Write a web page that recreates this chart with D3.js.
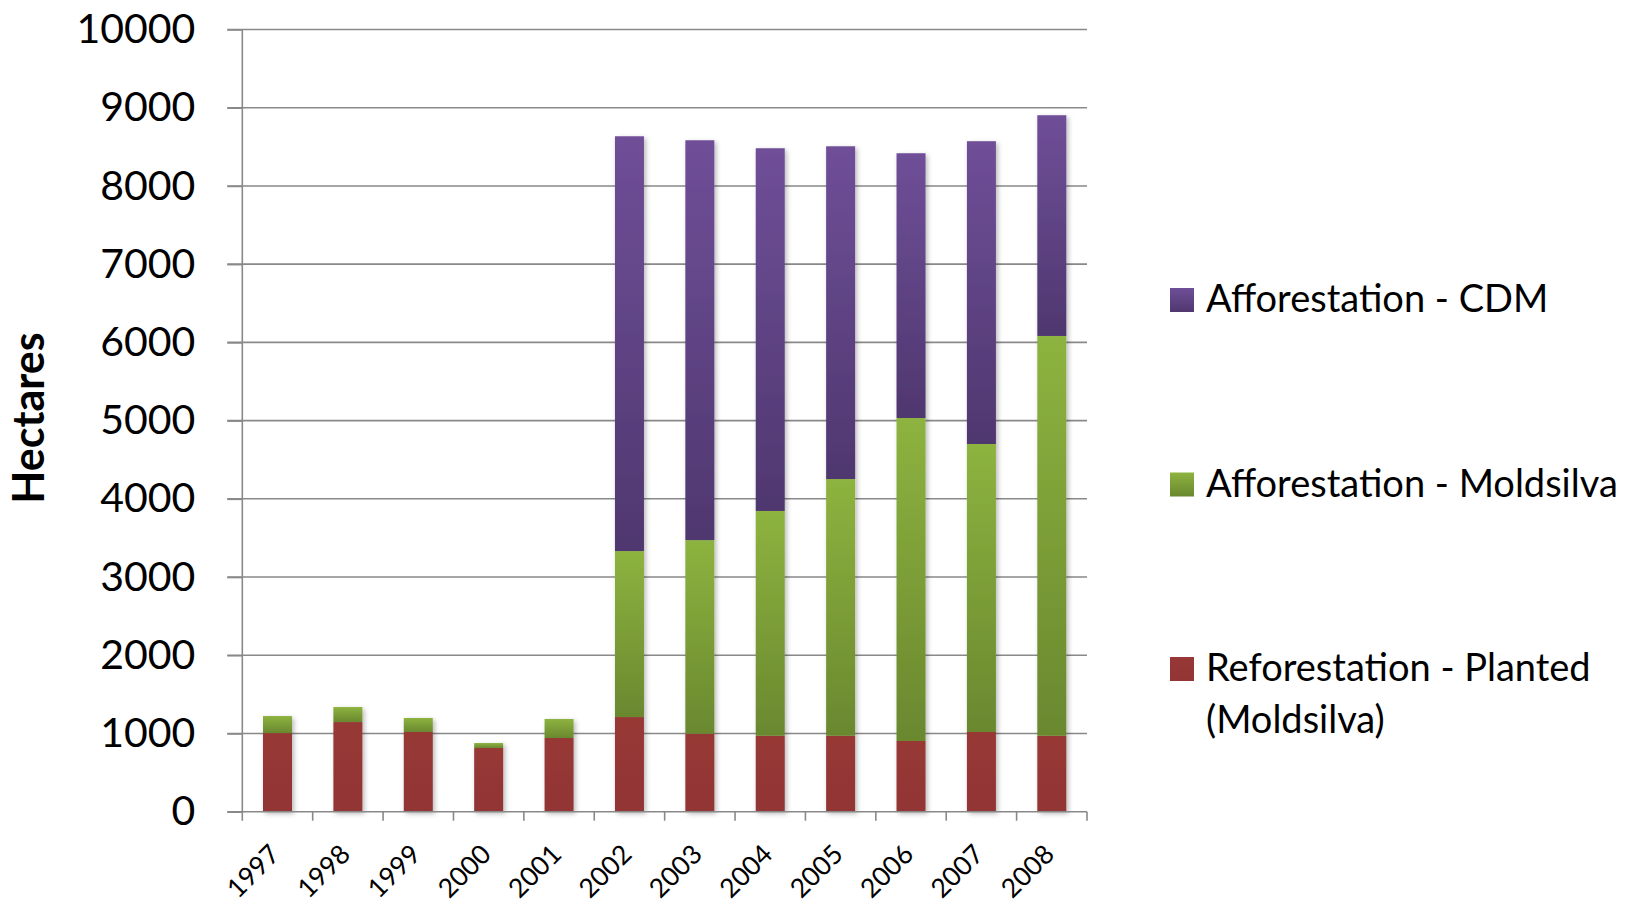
<!DOCTYPE html>
<html>
<head>
<meta charset="utf-8">
<script src="https://cdn.jsdelivr.net/npm/d3@7"></script>
<style>
  html, body { margin: 0; padding: 0; background: #ffffff; }
  svg { display: block; }
  text { font-family: Lato, "Open Sans", sans-serif; fill: #000; }
</style>
</head>
<body>
<svg id="chart" width="1632" height="905"></svg>
<script>
// ---- data ----
const years = ["1997","1998","1999","2000","2001","2002","2003","2004","2005","2006","2007","2008"];
const reforestationPlanted = [1005, 1146, 1019, 814, 942, 1210, 997, 971, 971, 904, 1019, 971];
const afforestationMoldsilva = [218, 192, 179, 64, 243, 2122, 2475, 2874, 3282, 4129, 3682, 5111];
const afforestationCDM = [0, 0, 0, 0, 0, 5303, 5112, 4637, 4254, 3385, 3871, 2822];
const yTicks = [0, 1000, 2000, 3000, 4000, 5000, 6000, 7000, 8000, 9000, 10000];
const seriesKeys = ["ref", "aff", "cdm"];

(function () {
// ---- build table ----
const table = years.map((yr, i) => ({
  year: yr,
  ref: reforestationPlanted[i],
  aff: afforestationMoldsilva[i],
  cdm: afforestationCDM[i]
}));

const svg = d3.select("#chart");
const pLeft = 242.3, pRight = 1087, pTop = 29.5, pBottom = 811.7;

const x = d3.scaleBand().domain(years).range([pLeft, pRight]).paddingInner(0.588).paddingOuter(0.294);
const y = d3.scaleLinear().domain([0, 10000]).range([pBottom, pTop]);

// ---- defs: gradients + shadow ----
const defs = svg.append("defs");
function grad(id, c1, c2) {
  const g = defs.append("linearGradient").attr("id", id).attr("x1", 0).attr("y1", 0).attr("x2", 0).attr("y2", 1);
  g.append("stop").attr("offset", "0%").attr("stop-color", c1);
  g.append("stop").attr("offset", "100%").attr("stop-color", c2);
}
grad("gCDM", "#6f4f98", "#4f376f");
grad("gAFF", "#8db33f", "#6a882f");
grad("gREF", "#973836", "#923534");
const f = defs.append("filter").attr("id", "shadow").attr("x", "-30%").attr("y", "-10%").attr("width", "160%").attr("height", "120%");
f.append("feDropShadow").attr("dx", 2).attr("dy", 2).attr("stdDeviation", 2.5)
  .attr("flood-color", "#000").attr("flood-opacity", 0.28);

const fills = { ref: "url(#gREF)", aff: "url(#gAFF)", cdm: "url(#gCDM)" };

// ---- gridlines ----
svg.append("g").selectAll("line").data(yTicks.filter(d => d > 0)).join("line")
  .attr("x1", pLeft - 15).attr("x2", pRight)
  .attr("y1", d => y(d)).attr("y2", d => y(d))
  .attr("stroke", "#898989").attr("stroke-width", 1.6);

// ---- bars ----
const stack = d3.stack().keys(seriesKeys)(table);
const barsG = svg.append("g").attr("filter", "url(#shadow)");
stack.forEach(layer => {
  barsG.append("g").selectAll("rect").data(layer.filter(d => d[1] - d[0] > 0)).join("rect")
    .attr("x", d => x(d.data.year))
    .attr("width", x.bandwidth())
    .attr("y", d => y(d[1]))
    .attr("height", d => y(d[0]) - y(d[1]))
    .attr("fill", fills[layer.key]);
});

// ---- y axis ----
const yAxis = d3.axisLeft(y).tickValues(yTicks).tickSize(15).tickPadding(32).tickFormat(d3.format("d"));
const yg = svg.append("g").attr("transform", `translate(${pLeft},0)`).call(yAxis);
yg.select(".domain").remove();
yg.selectAll(".tick line").attr("stroke", "#898989").attr("stroke-width", 1.6);
yg.selectAll(".tick text").attr("font-size", 41).attr("font-family", "Lato, sans-serif").attr("fill", "#000");
svg.append("line").attr("x1", pLeft).attr("x2", pLeft).attr("y1", pTop).attr("y2", pBottom + 9)
  .attr("stroke", "#898989").attr("stroke-width", 1.6);

// ---- x axis ----
svg.append("line").attr("x1", pLeft - 15).attr("x2", pRight).attr("y1", pBottom).attr("y2", pBottom)
  .attr("stroke", "#898989").attr("stroke-width", 1.6);
const boundaries = d3.range(years.length + 1).map(i => pLeft + i * x.step());
svg.append("g").selectAll("line").data(boundaries.slice(1)).join("line")
  .attr("x1", d => d).attr("x2", d => d).attr("y1", pBottom).attr("y2", pBottom + 9)
  .attr("stroke", "#898989").attr("stroke-width", 1.6);
svg.append("g").selectAll("text").data(years).join("text")
  .attr("transform", d => `translate(${x(d) + x.bandwidth() / 2 + 4},856) rotate(-45)`)
  .attr("text-anchor", "end")
  .attr("font-size", 26.5)
  .text(d => d);

// ---- y title ----
svg.append("text")
  .attr("transform", "translate(44,418) rotate(-90)")
  .attr("text-anchor", "middle")
  .attr("font-size", 43)
  .attr("font-weight", "bold")
  .text("Hectares");

// ---- legend ----
const legendItems = [
  { key: "cdm", lines: ["Afforestation - CDM"], sqY: 288, base: 311.7 },
  { key: "aff", lines: ["Afforestation - Moldsilva"], sqY: 472.5, base: 496.7 },
  { key: "ref", lines: ["Reforestation - Planted", "(Moldsilva)"], sqY: 657, base: 680.7 }
];
const lg = svg.append("g");
legendItems.forEach(it => {
  lg.append("rect").attr("x", 1170).attr("y", it.sqY).attr("width", 24).attr("height", 24)
    .attr("fill", fills[it.key]);
  const t = lg.append("text").attr("x", 1206).attr("y", it.base).attr("font-size", 38);
  it.lines.forEach((ln, j) => {
    t.append("tspan").attr("x", 1206).attr("dy", j === 0 ? 0 : 52).text(ln);
  });
});
})();
</script>
</body>
</html>
